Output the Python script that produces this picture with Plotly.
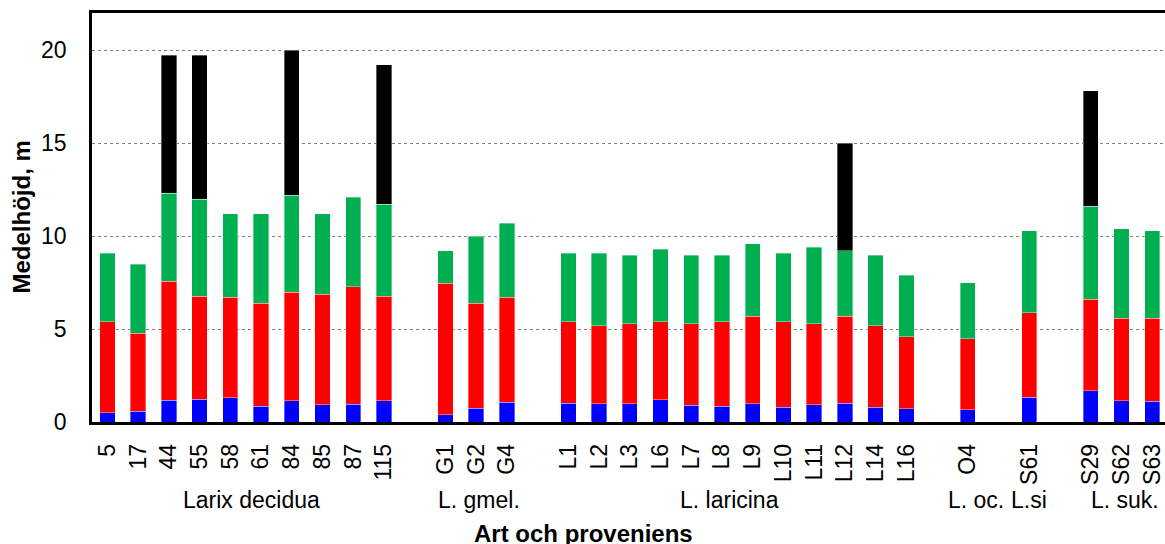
import numpy as np
import plotly.graph_objects as go

# Species groups and their provenances (left to right)
groups = ["Larix decidua", "L. gmel.", "L. laricina", "L. oc.", "L.si", "L. suk."]
provenances = [
    ["5", "17", "44", "55", "58", "61", "84", "85", "87", "115"],
    ["G1", "G2", "G4"],
    ["L1", "L2", "L3", "L6", "L7", "L8", "L9", "L10", "L11", "L12", "L14", "L16"],
    ["O4"],
    ["S61"],
    ["S29", "S62", "S63"],
]

# Mean height (m) at successive measurements, one value per provenance
height_1 = [0.49, 0.58, 1.17, 1.22, 1.31, 0.85, 1.15, 0.93, 0.95, 1.13,
            0.38, 0.74, 1.06,
            1.01, 0.97, 0.99, 1.19, 0.90, 0.84, 0.99, 0.79, 0.92, 1.02, 0.79, 0.70,
            0.66,
            1.33,
            1.69, 1.15, 1.11]
height_2 = [5.39, 4.77, 7.58, 6.77, 6.70, 6.40, 6.98, 6.88, 7.28, 6.77,
            7.46, 6.40, 6.70,
            5.39, 5.18, 5.28, 5.39, 5.28, 5.39, 5.69, 5.39, 5.28, 5.69, 5.18, 4.58,
            4.49,
            5.89,
            6.59, 5.59, 5.59]
height_3 = [9.09, 8.49, 12.31, 11.99, 11.19, 11.19, 12.20, 11.19, 12.09, 11.71,
            9.20, 9.99, 10.68,
            9.09, 9.09, 8.98, 9.30, 8.98, 8.98, 9.60, 9.09, 9.39, 9.20, 8.98, 7.90,
            7.48,
            10.29,
            11.60, 10.40, 10.29]
height_4 = [None, None, 19.72, 19.72, None, None, 20.0, None, None, 19.21,
            None, None, None,
            None, None, None, None, None, None, None, None, None, 15.0, None, None,
            None,
            None,
            17.81, None, None]

y_ticks = [0, 5, 10, 15, 20]

# Category slots: one empty slot between species groups
x_pos, labels, group_centres = [], [], []
slot = 0
for names in provenances:
    start = slot
    for n in names:
        x_pos.append(slot)
        labels.append(n)
        slot += 1
    group_centres.append((start + slot - 1) / 2)
    slot += 1
x_pos = np.array(x_pos, dtype=float)

# small horizontal shifts (in category slots) for the group captions
caption_shift = [0.2, 0.1, -0.26, 0.26, 0.0, 0.1]

h1 = np.array(height_1, dtype=float)
h2 = np.array(height_2, dtype=float)
h3 = np.array(height_3, dtype=float)
h4 = np.array([np.nan if v is None else v for v in height_4], dtype=float)

segments = [
    (h1, "#0000FF"),
    (h2 - h1, "#FF0000"),
    (h3 - h2, "#00B050"),
    (h4 - h3, "#000000"),
]

fig = go.Figure()
for vals, colour in segments:
    fig.add_trace(go.Bar(
        x=x_pos,
        y=[None if np.isnan(v) else round(float(v), 3) for v in vals],
        width=0.5,
        marker=dict(color=colour, line=dict(color="rgba(255,255,255,0.45)", width=0.8)),
        showlegend=False,
    ))

W, H = 1165, 544
L, R, T, B = 92, 0, 13, 121.5
plot_w, plot_h = W - L - R, H - T - B
FONT = "Liberation Sans, Arial, sans-serif"
TICK_SIZE = 23
TITLE_SIZE = 24


def py(pixel_y):
    return (H - B - pixel_y) / plot_h


def px(pixel_x):
    return (pixel_x - L) / plot_w


x_right = -0.5 + plot_w / 30.73

annotations = []
for g, c, s in zip(groups, group_centres, caption_shift):
    annotations.append(dict(
        x=c + s, xref="x", y=py(500.5), yref="paper", text=g, showarrow=False,
        xanchor="center", yanchor="middle",
        font=dict(family=FONT, size=TICK_SIZE, color="black"),
    ))
annotations.append(dict(
    x=px(583), xref="paper", y=py(534), yref="paper", text="<b>Art och proveniens</b>",
    showarrow=False, xanchor="center", yanchor="middle",
    font=dict(family=FONT, size=TITLE_SIZE, color="black"),
))
annotations.append(dict(
    x=px(21), xref="paper", y=0.5, yref="paper", text="<b>Medelhöjd, m</b>",
    showarrow=False, textangle=-90, xanchor="center", yanchor="middle",
    font=dict(family=FONT, size=TITLE_SIZE, color="black"),
))

fig.update_layout(
    barmode="stack",
    width=W, height=H,
    margin=dict(l=L, r=R, t=T, b=B, pad=0),
    paper_bgcolor="white", plot_bgcolor="white",
    font=dict(family=FONT, size=TICK_SIZE, color="black"),
    annotations=annotations,
    xaxis=dict(
        range=[-0.5, x_right],
        tickmode="array", tickvals=x_pos, ticktext=labels,
        tickangle=-90, ticks="", ticklabelstandoff=10,
        showgrid=False, zeroline=False,
        showline=True, linecolor="black", linewidth=2.5, mirror=True,
        tickfont=dict(family=FONT, size=TICK_SIZE, color="black"),
    ),
    yaxis=dict(
        range=[0, 22],
        tickmode="array", tickvals=y_ticks, ticktext=[str(t) for t in y_ticks],
        ticks="", ticklabelstandoff=18,
        showgrid=True, gridcolor="#808080", gridwidth=1.2, griddash="dot",
        zeroline=False,
        showline=True, linecolor="black", linewidth=2.5,
        tickfont=dict(family=FONT, size=TICK_SIZE, color="black"),
    ),
)

fig.write_html("out.html")
